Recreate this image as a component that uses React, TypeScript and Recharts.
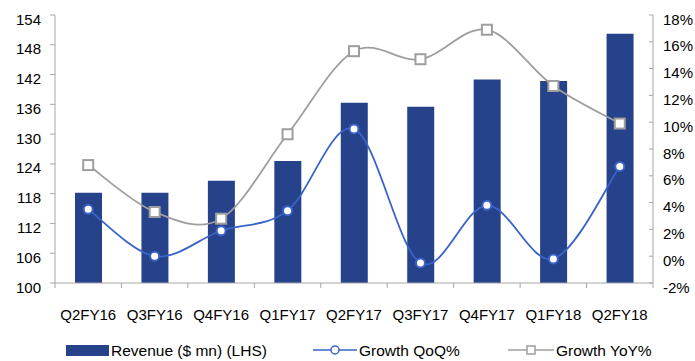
import React from 'react';
import {
  ComposedChart,
  Bar,
  Line,
  XAxis,
  YAxis,
  Legend,
} from 'recharts';

const categories = ['Q2FY16', 'Q3FY16', 'Q4FY16', 'Q1FY17', 'Q2FY17', 'Q3FY17', 'Q4FY17', 'Q1FY18', 'Q2FY18'];
const revenue = [118.2, 118.2, 120.6, 124.6, 136.3, 135.5, 141.0, 140.7, 150.2];
const growthQoQ = [3.5, 0.0, 1.9, 3.4, 9.5, -0.5, 3.8, -0.2, 6.7];
const growthYoY = [6.8, 3.3, 2.8, 9.1, 15.3, 14.7, 16.9, 12.7, 9.9];
const leftTicks = [100, 106, 112, 118, 124, 130, 136, 142, 148, 154];
const rightTicks = [-2, 0, 2, 4, 6, 8, 10, 12, 14, 16, 18];

const chartData = categories.map((name, i) => ({
  name,
  revenue: revenue[i],
  qoq: growthQoQ[i],
  yoy: growthYoY[i],
}));

const FONT = '"Liberation Sans", Arial, sans-serif';
const AXIS = '#a6a6a6';
const BAR = '#26428b';
const BLUE = '#3a63c8';
const GREY = '#9e9e9e';

const PLOT_LEFT = 55;
const PLOT_RIGHT = 653;
const BAND = (PLOT_RIGHT - PLOT_LEFT) / categories.length;

// excel style smoothing (catmull-rom through the points)
const excelSmooth = (context: any) => {
  let pts: number[][] = [];
  return {
    areaStart() {},
    areaEnd() {},
    lineStart() {
      pts = [];
    },
    point(x: number, y: number) {
      pts.push([+x, +y]);
    },
    lineEnd() {
      if (!pts.length) return;
      context.moveTo(pts[0][0], pts[0][1]);
      for (let i = 0; i < pts.length - 1; i++) {
        const p0 = pts[i - 1] || pts[i];
        const p1 = pts[i];
        const p2 = pts[i + 1];
        const p3 = pts[i + 2] || p2;
        context.bezierCurveTo(
          p1[0] + (p2[0] - p0[0]) / 6,
          p1[1] + (p2[1] - p0[1]) / 6,
          p2[0] - (p3[0] - p1[0]) / 6,
          p2[1] - (p3[1] - p1[1]) / 6,
          p2[0],
          p2[1]
        );
      }
    },
  };
};

const XTick = (props: any) => {
  const { x, y, payload, index } = props;
  return (
    <g>
      <line x1={x - BAND / 2} y1={y} x2={x - BAND / 2} y2={y + 5} stroke={AXIS} />
      {index === categories.length - 1 && (
        <line x1={x + BAND / 2} y1={y} x2={x + BAND / 2} y2={y + 5} stroke={AXIS} />
      )}
      <text x={x} y={y + 31} textAnchor="middle" dominantBaseline="central" fontSize={15} fontFamily={FONT} fill="#000">
        {payload.value}
      </text>
    </g>
  );
};

const LeftTick = (props: any) => {
  const { y, payload } = props;
  return (
    <g>
      <line x1={PLOT_LEFT - 5} y1={y} x2={PLOT_LEFT} y2={y} stroke={AXIS} />
      <text x={PLOT_LEFT - 14} y={y + 4} textAnchor="end" dominantBaseline="central" fontSize={15} fontFamily={FONT} fill="#000">
        {payload.value}
      </text>
    </g>
  );
};

const RightTick = (props: any) => {
  const { y, payload } = props;
  return (
    <g>
      <line x1={PLOT_RIGHT - 4} y1={y} x2={PLOT_RIGHT} y2={y} stroke={AXIS} />
      <text x={PLOT_RIGHT + 10} y={y + 4} textAnchor="start" dominantBaseline="central" fontSize={15} fontFamily={FONT} fill="#000">
        {`${payload.value}%`}
      </text>
    </g>
  );
};

const SquareDot = (props: any) => {
  const { cx, cy, index } = props;
  return (
    <rect key={`sq-${index}`} x={cx - 5} y={cy - 5} width={10} height={10} fill="#fff" stroke={GREY} strokeWidth={2} />
  );
};

const renderLegend = () => (
  <svg width={695} height={26} style={{ display: 'block' }}>
    <rect x={66} y={10} width={43} height={11} fill={BAR} />
    <text x={111} y={15} dominantBaseline="central" fontSize={15.5} fontFamily={FONT} fill="#000">
      Revenue ($ mn) (LHS)
    </text>
    <line x1={313} y1={15} x2={357} y2={15} stroke={BLUE} strokeWidth={1.5} />
    <circle cx={335} cy={15} r={4} fill="#fff" stroke={BLUE} strokeWidth={1.5} />
    <text x={359} y={15} dominantBaseline="central" fontSize={15.5} fontFamily={FONT} fill="#000">
      Growth QoQ%
    </text>
    <line x1={508} y1={15} x2={554} y2={15} stroke={GREY} strokeWidth={1.5} />
    <rect x={527} y={11} width={8} height={8} fill="#fff" stroke={GREY} strokeWidth={1.5} />
    <text x={556} y={15} dominantBaseline="central" fontSize={15.5} fontFamily={FONT} fill="#000">
      Growth YoY%
    </text>
  </svg>
);

export default function App() {
  return (
    <div style={{ position: 'absolute', left: 0, top: 0, width: 695, height: 361, background: '#fff' }}>
      <ComposedChart
        width={695}
        height={361}
        data={chartData}
        margin={{ top: 15, right: 0, bottom: 0, left: 0 }}
        barSize={27}
      >
        <XAxis
          dataKey="name"
          height={52}
          stroke={AXIS}
          tickLine={false}
          tickSize={0}
          tickMargin={0}
          interval={0}
          tick={<XTick />}
        />
        <YAxis
          yAxisId="left"
          width={55}
          domain={[100, 154]}
          ticks={leftTicks}
          stroke={AXIS}
          tickLine={false}
          tickSize={0}
          tickMargin={0}
          interval={0}
          tick={<LeftTick />}
        />
        <YAxis
          yAxisId="right"
          orientation="right"
          width={42}
          domain={[-2, 18]}
          ticks={rightTicks}
          stroke={AXIS}
          tickLine={false}
          tickSize={0}
          tickMargin={0}
          interval={0}
          tick={<RightTick />}
        />
        <Legend
          verticalAlign="bottom"
          height={26}
          content={renderLegend}
          wrapperStyle={{ left: 0, bottom: 0, width: 695, height: 26 }}
        />
        <Bar yAxisId="left" dataKey="revenue" fill={BAR} isAnimationActive={false} />
        <Line
          yAxisId="right"
          dataKey="qoq"
          type={excelSmooth as any}
          stroke={BLUE}
          strokeWidth={1.8}
          dot={{ r: 4.5, fill: '#fff', stroke: BLUE, strokeWidth: 2 }}
          activeDot={false}
          isAnimationActive={false}
        />
        <Line
          yAxisId="right"
          dataKey="yoy"
          type={excelSmooth as any}
          stroke={GREY}
          strokeWidth={1.8}
          dot={<SquareDot />}
          activeDot={false}
          isAnimationActive={false}
        />
      </ComposedChart>
    </div>
  );
}
